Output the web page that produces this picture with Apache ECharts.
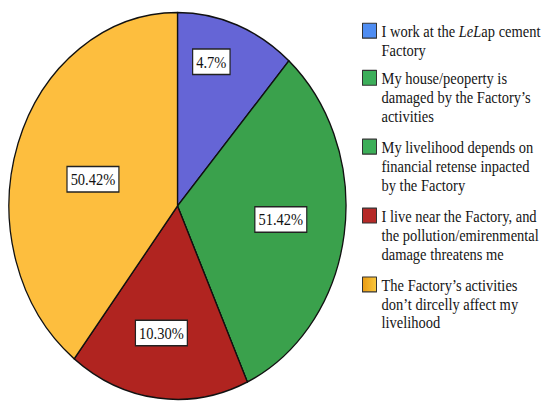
<!DOCTYPE html>
<html>
<head>
<meta charset="utf-8">
<script src="https://cdn.jsdelivr.net/npm/echarts@6/dist/echarts.min.js"></script>
<style>
  html, body { margin: 0; padding: 0; background: #fff; overflow: hidden; }
  #wrap { width: 542px; height: 403px; overflow: hidden; position: relative; }
  #chart { position: absolute; left: 0; top: 0; width: 542px; height: 351px;
           transform: scaleY(1.148); transform-origin: 0 0; }
</style>
</head>
<body>
<div id="wrap"><div id="chart"></div></div>
<script>
// ---- data ----
const categories = [
  'I work at the LeLap cement\nFactory',
  'My house/peoperty is\ndamaged by the Factory\u2019s\nactivities',
  'My livelihood depends on\nfinancial retense inpacted\nby the Factory',
  'I live near the Factory, and\nthe pollution/emirenmental\ndamage threatens me',
  'The Factory\u2019s activities\ndon\u2019t dircelly affect my\nlivelihood'
];
// slice sizes estimated from the drawn angles (third category has no slice)
const sliceValues = [11.5, 31.7, 0, 17.3, 39.5];
// percentages printed in the boxes
const printedLabels = ['4.7%', '51.42%', '', '10.30%', '50.42%'];

// ---- styles ----
const sliceColors = ['#6565d6', '#3aa14c', '#3cae58', '#b02420', '#fdbe3e'];
const legendColors = ['#4f8df2', '#3cae5a', '#3cae58', '#b52a28', null];
const labelOffsets = [[3, -44], [17, -1], [0, 0], [-6, 24], [-2, 5]];
const serif = '"Liberation Serif", "Times New Roman", serif';
const lineH = 16.5;
const firstLineCenters = [26.5, 67.5, 127.5, 187.5, 247.5];

const chart = echarts.init(document.getElementById('chart'), null, { renderer: 'svg' });

const legends = categories.map((name, i) => {
  const lines = name.split('\n').length;
  const h = lines * lineH;
  const color = legendColors[i] || new echarts.graphic.LinearGradient(0, 0, 1, 0, [
    { offset: 0, color: '#e99a12' }, { offset: 1, color: '#f9c83e' }
  ]);
  return {
    orient: 'vertical',
    left: 362,
    top: firstLineCenters[i] - lineH / 2,
    padding: 0,
    itemWidth: 14,
    itemHeight: h,
    icon: 'path://M0,0M0,1.5L14,1.5L14,14.5L0,14.5Z M0,' + h,
    selectedMode: false,
    data: [{ name: name, itemStyle: { color: color, borderColor: '#333', borderWidth: 1 } }],
    formatter: n => n.replace('LeL', '{i|LeL}'),
    textStyle: {
      fontFamily: serif, fontSize: 14.5, color: '#151515', lineHeight: lineH,
      rich: { i: { fontFamily: serif, fontSize: 14.5, fontStyle: 'italic', color: '#151515', lineHeight: lineH } }
    }
  };
});

chart.setOption({
  animation: false,
  legend: legends,
  series: [{
    type: 'pie',
    center: [177.5, 179.4],
    radius: 168.5,
    startAngle: 90,
    clockwise: true,
    avoidLabelOverlap: false,
    silent: true,
    itemStyle: { borderColor: '#111', borderWidth: 1.3 },
    label: {
      show: true,
      position: 'inside',
      fontFamily: serif,
      fontSize: 14.5,
      color: '#111',
      backgroundColor: '#fff',
      borderColor: '#222',
      borderWidth: 1.2,
      padding: [3, 3, 2, 3],
      lineHeight: 16,
      formatter: p => printedLabels[p.dataIndex]
    },
    labelLine: { show: false },
    emphasis: { disabled: true },
    data: categories.map((name, i) => ({
      name: name,
      value: sliceValues[i],
      itemStyle: { color: sliceColors[i] },
      label: { offset: labelOffsets[i], show: sliceValues[i] > 0 }
    }))
  }]
});
</script>
</body>
</html>
